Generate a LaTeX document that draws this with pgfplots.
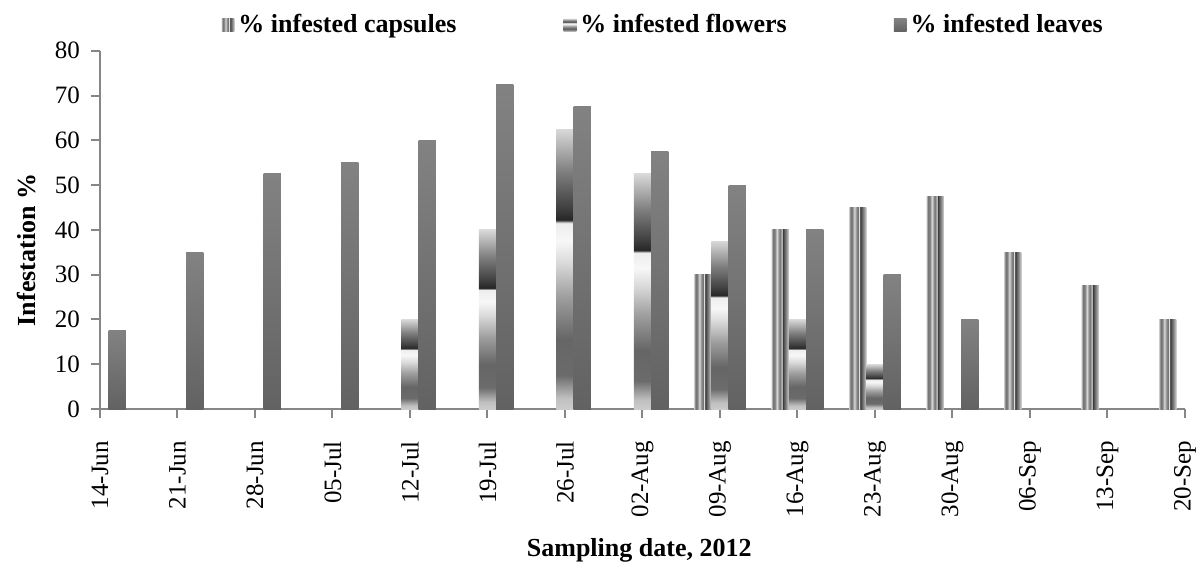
\documentclass[border=0pt]{standalone}
\usepackage{fontspec}
\setmainfont{Liberation Serif}
\usepackage{pgfplots}
\pgfplotsset{compat=1.18}

\definecolor{axisgray}{RGB}{134,134,134}
\definecolor{leafhi}{RGB}{130,130,130}
\definecolor{leaflo}{RGB}{98,98,98}

% shadings: the middle 50bp span the bar
\pgfdeclareverticalshading{leafshade}{100bp}{color(0bp)=(leaflo); color(25bp)=(leaflo); color(75bp)=(leafhi); color(100bp)=(leafhi)}
\pgfdeclareverticalshading{flowshade}{100bp}{%
  color(0bp)=(black!20); color(25bp)=(black!20); color(27bp)=(black!25);
  color(31bp)=(black!58); color(37.5bp)=(black!60); color(45bp)=(black!38);
  color(51bp)=(black!15); color(55bp)=(black!3); color(58.25bp)=(black!7);
  color(58.75bp)=(black!85); color(61bp)=(black!75); color(67.5bp)=(black!50);
  color(75bp)=(black!15); color(100bp)=(black!15)}
\pgfdeclarehorizontalshading{capshade}{100bp}{%
  color(0bp)=(black!25); color(25bp)=(black!25); color(29bp)=(black!55);
  color(34bp)=(black!50); color(40bp)=(black!15); color(46bp)=(black!45);
  color(51bp)=(black!55); color(54bp)=(black!5); color(57bp)=(black!80);
  color(61bp)=(black!65); color(67.5bp)=(black!45); color(75bp)=(black!15);
  color(100bp)=(black!15)}

% one bar per plot so every bar gets its own gradient
\pgfplotsset{
  capbar/.style={ybar, draw=none, bar width=8.6pt, bar shift=-8.6pt, shading=capshade, forget plot},
  flowbar/.style={ybar, draw=none, bar width=8.6pt, bar shift=0pt, shading=flowshade, forget plot},
  leafbar/.style={ybar, draw=none, bar width=8.6pt, bar shift=8.6pt, shading=leafshade, forget plot},
}

\begin{document}
\begin{tikzpicture}
\useasboundingbox (-50pt,-80.5pt) rectangle (551.5pt,204.5pt);
\begin{axis}[
    scale only axis,
    width=542.5pt, height=179.15pt,
    xmin=0, xmax=98, ymin=0, ymax=80,
    xtick={0,7,...,98},
    xticklabels={14-Jun,21-Jun,28-Jun,05-Jul,12-Jul,19-Jul,26-Jul,02-Aug,09-Aug,16-Aug,23-Aug,30-Aug,06-Sep,13-Sep,20-Sep},
    ytick={0,10,...,80},
    axis lines*=left,
    axis line style={draw=axisgray, line width=1pt},
    tick style={draw=axisgray, line width=1pt},
    tick align=outside, major tick length=4.5pt,
    ticklabel style={font=\fontsize{12.5}{14}\selectfont},
    /pgf/number format/assume math mode=true,
    xticklabel style={rotate=90, anchor=east, xshift=-8pt},
    yticklabel style={xshift=-2pt},
    xlabel={Sampling date, 2012},
    ylabel={Infestation \%},
    xlabel style={at={(axis description cs:0.497,-0.3935)}, anchor=center, font=\bfseries\fontsize{13}{15}\selectfont},
    ylabel style={at={(axis description cs:-0.0673,0.444)}, anchor=center, font=\bfseries\fontsize{13}{15}\selectfont},
    clip=false,
    legend columns=3,
    legend style={at={(0.52,1.0717)}, anchor=center, draw=none, fill=none,
        font=\bfseries\fontsize{13}{15}\selectfont,
        /tikz/every even column/.append style={column sep=51.5pt}},
    legend image code/.code={\fill[#1] (0pt,-3.2pt) rectangle (6.4pt,3.2pt);},
]

\addlegendimage{draw=none, shading=capshade}
\addlegendentry{\% infested capsules}
\addlegendimage{draw=none, shading=flowshade}
\addlegendentry{\% infested flowers}
\addlegendimage{draw=none, shading=leafshade}
\addlegendentry{\% infested leaves}

% % infested capsules
\addplot[capbar] coordinates {(56,30)};
\addplot[capbar] coordinates {(63,40)};
\addplot[capbar] coordinates {(70,45)};
\addplot[capbar] coordinates {(77,47.5)};
\addplot[capbar] coordinates {(84,35)};
\addplot[capbar] coordinates {(91,27.5)};
\addplot[capbar] coordinates {(98,20)};

% % infested flowers
\addplot[flowbar] coordinates {(28,20)};
\addplot[flowbar] coordinates {(35,40)};
\addplot[flowbar] coordinates {(42,62.5)};
\addplot[flowbar] coordinates {(49,52.5)};
\addplot[flowbar] coordinates {(56,37.5)};
\addplot[flowbar] coordinates {(63,20)};
\addplot[flowbar] coordinates {(70,10)};

% % infested leaves
\addplot[leafbar] coordinates {(0,17.5)};
\addplot[leafbar] coordinates {(7,35)};
\addplot[leafbar] coordinates {(14,52.5)};
\addplot[leafbar] coordinates {(21,55)};
\addplot[leafbar] coordinates {(28,60)};
\addplot[leafbar] coordinates {(35,72.5)};
\addplot[leafbar] coordinates {(42,67.5)};
\addplot[leafbar] coordinates {(49,57.5)};
\addplot[leafbar] coordinates {(56,50)};
\addplot[leafbar] coordinates {(63,40)};
\addplot[leafbar] coordinates {(70,30)};
\addplot[leafbar] coordinates {(77,20)};

\end{axis}
\end{tikzpicture}
\end{document}
